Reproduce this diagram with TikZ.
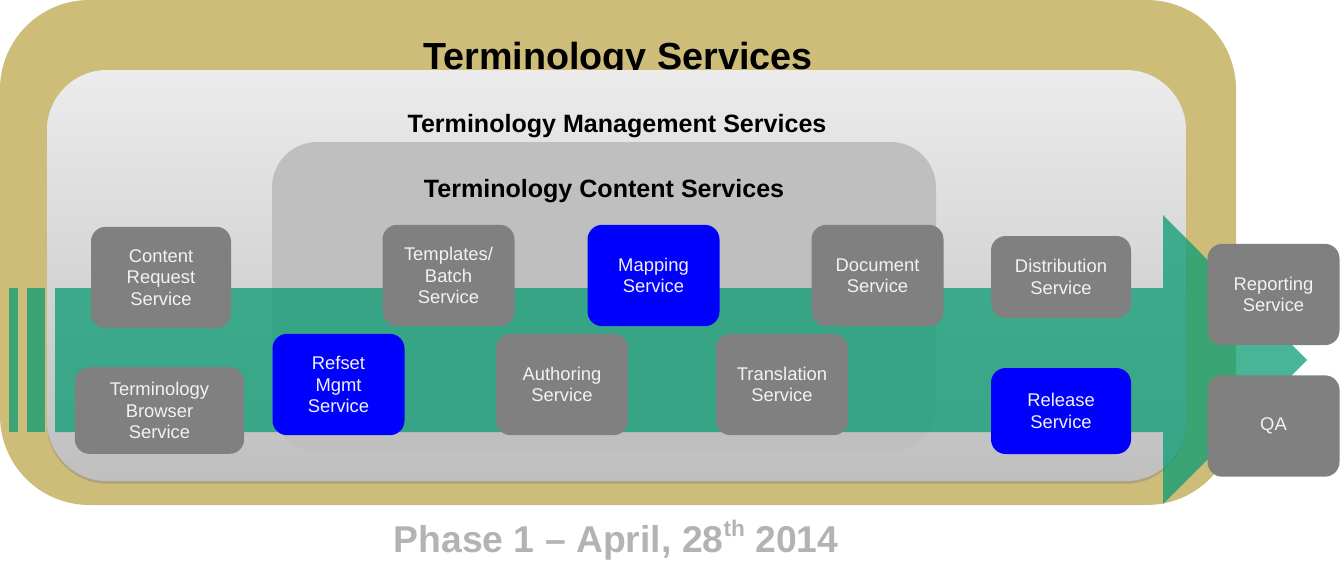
\documentclass[tikz,border=0pt]{standalone}
\usepackage{fontspec}
\setmainfont{Liberation Sans}
\usetikzlibrary{shadows}
\definecolor{oro}{HTML}{CEBD78}
\definecolor{grigio_ch}{HTML}{ECECEC}
\definecolor{grigio_sc}{HTML}{BFBFBF}
\definecolor{verde}{RGB}{11,156,116}
\definecolor{servizio}{HTML}{808080}
\definecolor{testo}{HTML}{F2F2F2}
\definecolor{fase}{HTML}{B3B3B3}
\begin{document}
\begin{tikzpicture}[
    x=0.75pt, y=-0.75pt,
    serv/.style={rectangle, rounded corners=11pt, fill=servizio, text=testo, align=center,
        font=\fontsize{13.8}{16}\selectfont, inner sep=0pt, minimum width=99pt, minimum height=76pt},
    serv_blu/.style={serv, fill=blue},
    freccia/.style={fill=verde, fill opacity=0.75},
    titolo/.style={anchor=base, font=\fontsize{18.8}{22}\selectfont\bfseries}
]
    \useasboundingbox (0,0) rectangle (1341,568);

    % 1. Riquadro esterno e titolo
    \fill[oro, rounded corners=67pt] (0,0) rectangle (1236,505);
    \node[anchor=base, font=\fontsize{28.3}{32}\selectfont\bfseries] (tit_ts) at (618,69) {Terminology Services};

    % Riquadro gestione (copre il titolo)
    \shade[top color=grigio_ch, bottom color=grigio_sc, rounded corners=45pt,
        drop shadow={opacity=0.4, shadow xshift=0pt, shadow yshift=-2pt}] (47,70) rectangle (1186,481);
    \node[titolo] (tit_tms) at (617,132) {Terminology Management Services};

    % Riquadro contenuti
    \fill[grigio_sc, rounded corners=34pt] (272,142) rectangle (936,452);
    \node[titolo] (tit_tcs) at (604,197) {Terminology Content Services};

    % 2. Freccia verde
    \fill[freccia] (55,288) -- (1163,288) -- (1163,215) -- (1307,360) -- (1163,504)
        -- (1163,432) -- (55,432) -- cycle;
    \fill[freccia] (9,288) rectangle (18,432);
    \fill[freccia] (27,288) rectangle (45,432);

    % 3. Servizi - riga alta
    \node[serv, minimum width=105pt] (crs) at (161,277.5) {Content\\Request\\Service};
    \node[serv] (tbs_t) at (448.5,275.5) {Templates/\\Batch\\Service};
    \node[serv_blu] (map) at (653.5,275.5) {Mapping\\Service};
    \node[serv] (doc) at (877.5,275.5) {Document\\Service};
    \node[serv, minimum width=105pt, minimum height=61.5pt] (dis) at (1061,277) {Distribution\\Service};

    % Servizi - riga bassa
    \node[serv, minimum width=127pt, minimum height=65pt] (tbs) at (159.5,410.5) {Terminology\\Browser\\Service};
    \node[serv_blu] (rms) at (338.5,384.5) {Refset\\Mgmt\\Service};
    \node[serv] (aut) at (562,384.5) {Authoring\\Service};
    \node[serv] (trn) at (782,384.5) {Translation\\Service};
    \node[serv_blu, minimum width=105pt, minimum height=64.5pt] (rel) at (1061,411) {Release\\Service};

    % Servizi esterni
    \node[serv] (rep) at (1273.5,294.5) {Reporting\\Service};
    \node[serv] (qa) at (1273.5,426) {QA};

    % 4. Fase
    \node[anchor=base, text=fase, font=\fontsize{28}{32}\selectfont\bfseries] (fase) at (616,552)
        {Phase 1 -- April, 28\raisebox{0.42em}{\fontsize{17}{20}\selectfont th} 2014};

\end{tikzpicture}
\end{document}
